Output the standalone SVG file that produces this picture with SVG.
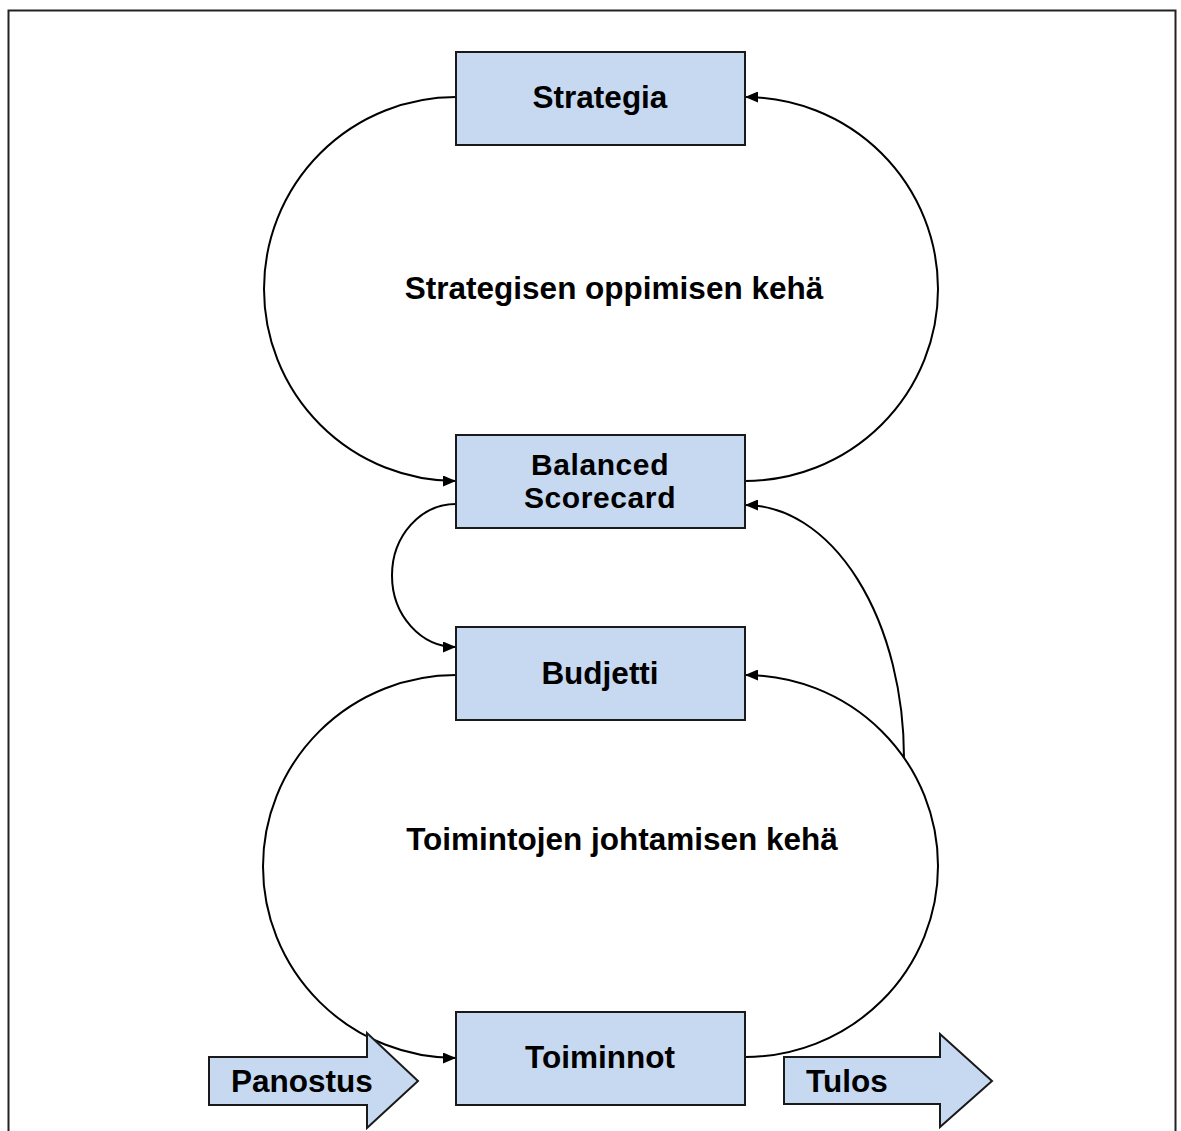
<svg xmlns="http://www.w3.org/2000/svg" width="1181" height="1131" viewBox="0 0 1181 1131">
  <style>
    .box { fill: #c6d9f1; stroke: #1a1a1a; stroke-width: 2; }
    .lbl { font-family: "Liberation Sans", Arial, sans-serif; font-weight: bold; font-size: 31.5px; fill: #000; }
    .two { font-size: 30px; letter-spacing: 0.6px; }
    .mid { text-anchor: middle; }
    .conn { fill: none; stroke: #000; stroke-width: 2; }
  </style>
  <defs>
    <marker id="arrow" viewBox="0 0 13 11" refX="13" refY="5.5" markerWidth="13" markerHeight="11" markerUnits="userSpaceOnUse" orient="auto">
      <path d="M0,0 L13,5.5 L0,11 Z" fill="#000"/>
    </marker>
  </defs>

  <rect width="1181" height="1131" fill="#fff"/>
  <!-- frame -->
  <rect x="8.5" y="10.5" width="1167" height="1140" fill="none" stroke="#222" stroke-width="2"/>

  <!-- connectors -->
  <g id="connectors">
    <path class="conn" d="M456,97 A192,192 0 0 0 456,481" marker-end="url(#arrow)"/>
    <path class="conn" d="M745,481 A193,192 0 0 0 745,97" marker-end="url(#arrow)"/>
    <path class="conn" d="M456,504 A64,71.5 0 0 0 456,647" marker-end="url(#arrow)"/>
    <path class="conn" d="M456,675 A193,191.5 0 0 0 456,1058" marker-end="url(#arrow)"/>
    <path class="conn" d="M745,1057 A193,191 0 0 0 745,675" marker-end="url(#arrow)"/>
    <path class="conn" d="M904,758 A159,253 0 0 0 745,505" marker-end="url(#arrow)"/>
  </g>

  <!-- loop labels -->
  <text class="lbl mid" x="614" y="299">Strategisen oppimisen kehä</text>
  <text class="lbl mid" x="622" y="850">Toimintojen johtamisen kehä</text>

  <g id="strategia">
    <rect class="box" x="456" y="52" width="289" height="93"/>
    <text class="lbl mid" x="600" y="108">Strategia</text>
  </g>
  <g id="balanced-scorecard">
    <rect class="box" x="456" y="435" width="289" height="93"/>
    <text class="lbl two mid" x="600" y="475">Balanced</text>
    <text class="lbl two mid" x="600" y="508">Scorecard</text>
  </g>
  <g id="budjetti">
    <rect class="box" x="456" y="627" width="289" height="93"/>
    <text class="lbl mid" x="600" y="684">Budjetti</text>
  </g>
  <g id="toiminnot">
    <rect class="box" x="456" y="1012" width="289" height="93"/>
    <text class="lbl mid" x="600" y="1068">Toiminnot</text>
  </g>

  <g id="panostus">
    <polygon class="box" points="209,1057 367,1057 367,1033 418,1081 367,1128 367,1105 209,1105"/>
    <text class="lbl" x="231" y="1092">Panostus</text>
  </g>
  <g id="tulos">
    <polygon class="box" points="784,1057 940,1057 940,1034 992,1081 940,1127 940,1104 784,1104"/>
    <text class="lbl" x="806" y="1092">Tulos</text>
  </g>
</svg>
